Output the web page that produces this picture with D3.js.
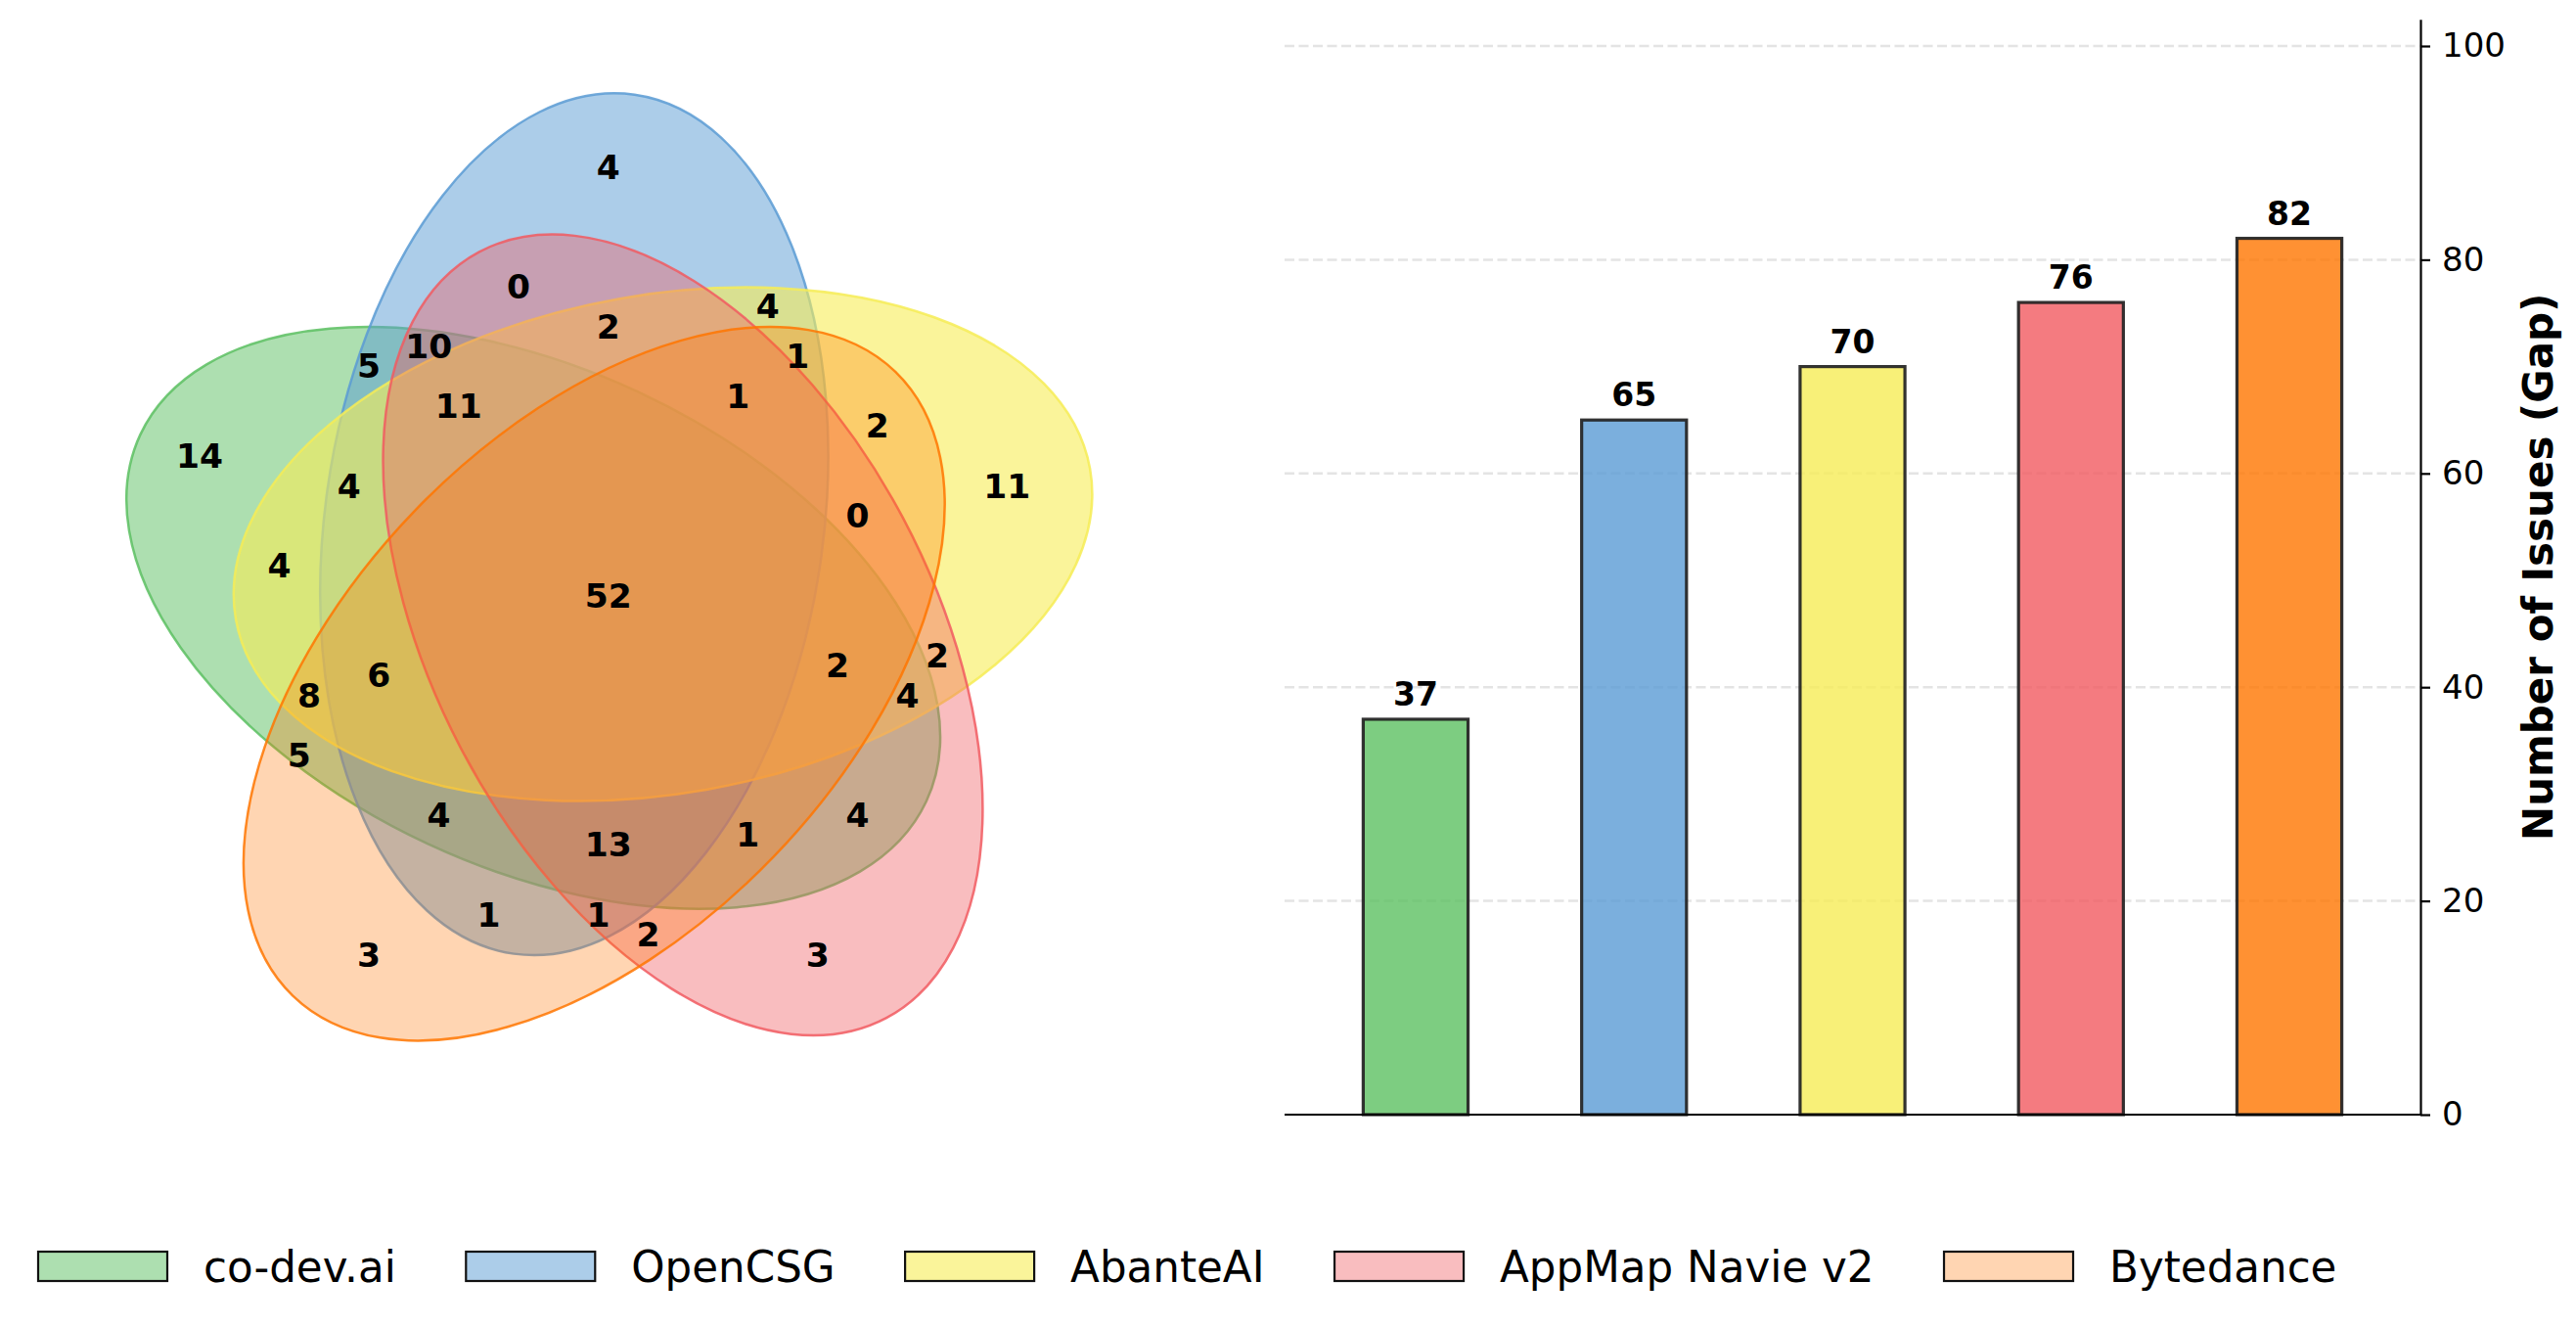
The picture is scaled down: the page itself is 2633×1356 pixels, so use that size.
<!DOCTYPE html>
<html>
<head>
<meta charset="utf-8">
<script src="https://cdn.jsdelivr.net/npm/d3@7"></script>
<style>
body { margin: 0; background: #fff; }
text { font-family: "DejaVu Sans", sans-serif; }
</style>
</head>
<body>
<svg id="chart" width="2633" height="1356"></svg>
<script>
// ---- data ----
var setNames = ["co-dev.ai", "OpenCSG", "AbanteAI", "AppMap Navie v2", "Bytedance"];
var setColors = ["rgb(92,192,98)", "rgb(90,155,212)", "rgb(246,236,86)", "rgb(241,90,96)", "rgb(255,117,0)"];
var setAlphas = [0.5, 0.5, 0.6, 0.4, 0.3];
var gapCounts = [37, 65, 70, 76, 82];
var yTicks = [0, 20, 40, 60, 80, 100];

// region code: one bit per set, in setNames order
var regionCodes = ["00001", "00010", "00011", "00100", "00101", "00110", "00111",
                   "01000", "01001", "01010", "01011", "01100", "01101", "01110", "01111",
                   "10000", "10001", "10010", "10011", "10100", "10101", "10110", "10111",
                   "11000", "11001", "11010", "11011", "11100", "11101", "11110", "11111"];
var regionCounts = [3, 3, 2, 11, 2, 2, 0,
                    4, 1, 0, 1, 4, 1, 2, 1,
                    14, 5, 4, 1, 4, 8, 4, 2,
                    5, 4, 10, 13, 4, 6, 11, 52];

// ---- layout of the 5-set venn (unit square) ----
var ellipseLayout = [
    {cx: 0.428, cy: 0.449, angle: 155},
    {cx: 0.469, cy: 0.543, angle: 82},
    {cx: 0.558, cy: 0.523, angle: 10},
    {cx: 0.578, cy: 0.432, angle: 118},
    {cx: 0.489, cy: 0.383, angle: 46}
];
var ellipseW = 0.87, ellipseH = 0.50;
var labelPos = {
    "00001": [0.27, 0.11], "00010": [0.72, 0.11], "00011": [0.55, 0.13], "00100": [0.91, 0.58],
    "00101": [0.78, 0.64], "00110": [0.84, 0.41], "00111": [0.76, 0.55], "01000": [0.51, 0.90],
    "01001": [0.39, 0.15], "01010": [0.42, 0.78], "01011": [0.50, 0.15], "01100": [0.67, 0.76],
    "01101": [0.70, 0.71], "01110": [0.51, 0.74], "01111": [0.64, 0.67], "10000": [0.10, 0.61],
    "10001": [0.20, 0.31], "10010": [0.76, 0.25], "10011": [0.65, 0.23], "10100": [0.18, 0.50],
    "10101": [0.21, 0.37], "10110": [0.81, 0.37], "10111": [0.74, 0.40], "11000": [0.27, 0.70],
    "11001": [0.34, 0.25], "11010": [0.33, 0.72], "11011": [0.51, 0.22], "11100": [0.25, 0.58],
    "11101": [0.28, 0.39], "11110": [0.36, 0.66], "11111": [0.51, 0.47]
};

var svg = d3.select("#chart");
svg.append("rect").attr("width", 2633).attr("height", 1356).attr("fill", "#fff");

// ---- venn ----
var vx = d3.scaleLinear().domain([0, 1]).range([109, 1128]);
var vy = d3.scaleLinear().domain([0, 1]).range([1089, 70]);
var unit = vx(1) - vx(0);

var venn = svg.append("g");
venn.selectAll("ellipse")
    .data(ellipseLayout)
    .enter()
    .append("ellipse")
    .attr("cx", 0).attr("cy", 0)
    .attr("rx", ellipseW / 2 * unit)
    .attr("ry", ellipseH / 2 * unit)
    .attr("transform", function(d){ return "translate(" + vx(d.cx) + "," + vy(d.cy) + ") rotate(" + (-d.angle) + ")"; })
    .attr("fill", function(d, i){ return setColors[i]; })
    .attr("fill-opacity", function(d, i){ return setAlphas[i]; })
    .attr("stroke", function(d, i){ return setColors[i]; })
    .attr("stroke-opacity", 0.85)
    .attr("stroke-width", 2.5);

venn.selectAll("text.region")
    .data(regionCodes)
    .enter()
    .append("text")
    .attr("class", "region")
    .attr("x", function(d){ return vx(labelPos[d][0]) - 7; })
    .attr("y", function(d){ return vy(labelPos[d][1]) - 2 + 12.6; })
    .attr("text-anchor", "middle")
    .attr("font-size", 34.5)
    .attr("font-weight", "bold")
    .attr("fill", "#000")
    .text(function(d, i){ return regionCounts[i]; });

// ---- bar chart ----
var x = d3.scaleLinear().domain([-0.6, 4.6]).range([1313, 2474]);
var y = d3.scaleLinear().domain([0, 102.5]).range([1139, 19.7]);
var bars = svg.append("g");

bars.selectAll("line.grid")
    .data(yTicks.slice(1))
    .enter()
    .append("line")
    .attr("class", "grid")
    .attr("x1", x(-0.6)).attr("x2", x(4.6))
    .attr("y1", function(d){ return y(d); })
    .attr("y2", function(d){ return y(d); })
    .attr("stroke", "#d8d8d8")
    .attr("stroke-opacity", 0.7)
    .attr("stroke-width", 2.5)
    .attr("stroke-dasharray", "10,4.5");

var bw = 0.48;
bars.selectAll("rect.bar")
    .data(gapCounts)
    .enter()
    .append("rect")
    .attr("class", "bar")
    .attr("x", function(d, i){ return x(i - bw / 2); })
    .attr("width", x(bw) - x(0))
    .attr("y", function(d){ return y(d); })
    .attr("height", function(d){ return y(0) - y(d); })
    .attr("fill", function(d, i){ return setColors[i]; })
    .attr("fill-opacity", 0.8)
    .attr("stroke", "#222")
    .attr("stroke-opacity", 0.92)
    .attr("stroke-width", 3.2);

bars.selectAll("text.val")
    .data(gapCounts)
    .enter()
    .append("text")
    .attr("class", "val")
    .attr("x", function(d, i){ return x(i); })
    .attr("y", function(d){ return y(d) - 14; })
    .attr("text-anchor", "middle")
    .attr("font-size", 33)
    .attr("font-weight", "bold")
    .text(function(d){ return d; });

// bottom spine
bars.append("line")
    .attr("x1", x(-0.6)).attr("x2", x(4.6))
    .attr("y1", y(0)).attr("y2", y(0))
    .attr("stroke", "#000").attr("stroke-width", 2.2);

// right axis
var yAxis = d3.axisRight(y).tickValues(yTicks).tickSize(10).tickSizeOuter(0).tickPadding(12);
var ag = bars.append("g").attr("transform", "translate(" + x(4.6) + ",0)").call(yAxis);
ag.select(".domain").attr("stroke", "#000").attr("stroke-width", 2.2);
ag.selectAll(".tick line").attr("stroke", "#000").attr("stroke-width", 2.2);
ag.selectAll(".tick text")
    .attr("font-family", "DejaVu Sans")
    .attr("font-size", 34)
    .attr("fill", "#000");

svg.append("text")
    .attr("transform", "translate(2594," + ((y(0) + y(102.5)) / 2) + ") rotate(-90)")
    .attr("text-anchor", "middle")
    .attr("dominant-baseline", "central")
    .attr("font-size", 42)
    .attr("font-weight", "bold")
    .text("Number of Issues (Gap)");

// ---- legend ----
var legend = svg.append("g");
var lx = 38;
setNames.forEach(function(name, i){
    legend.append("rect")
        .attr("x", lx + 1).attr("y", 1279)
        .attr("width", 132).attr("height", 30)
        .attr("fill", setColors[i])
        .attr("fill-opacity", setAlphas[i])
        .attr("stroke", "#111")
        .attr("stroke-width", 2.2);
    var t = legend.append("text")
        .attr("x", lx + 170).attr("y", 1310)
        .attr("font-size", 43.6)
        .attr("fill", "#000")
        .text(name);
    lx = lx + 170 + t.node().getComputedTextLength() + 70.5;
});
</script>
</body>
</html>
